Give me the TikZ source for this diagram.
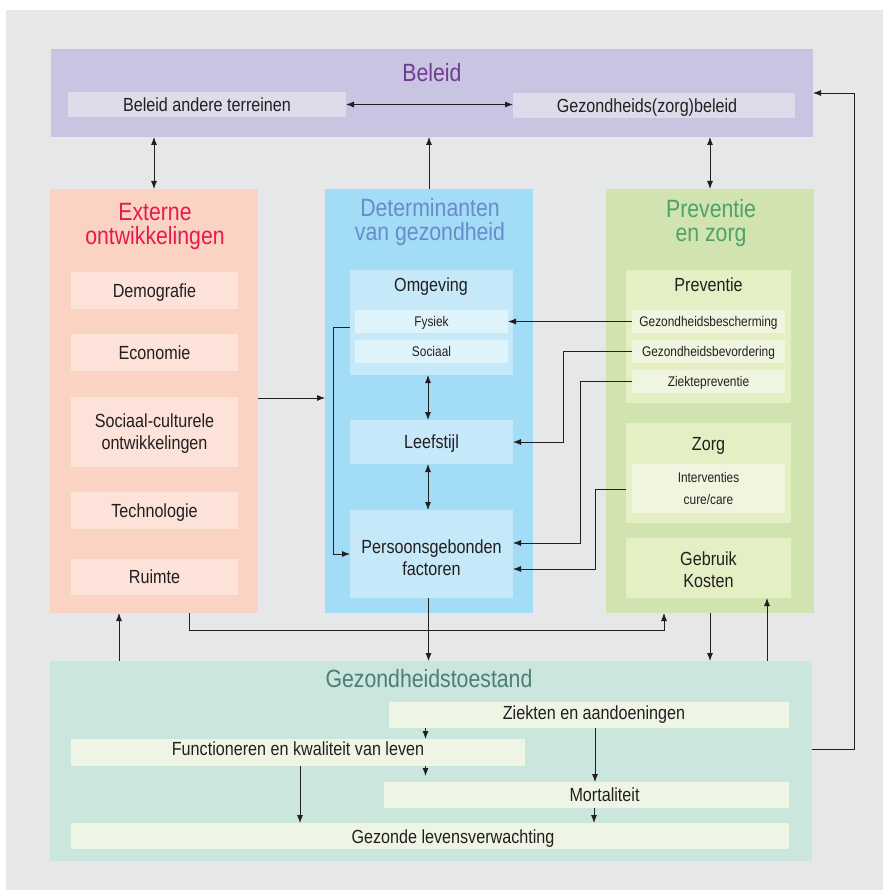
\documentclass[tikz,border=0pt]{standalone}
\usepackage{fontspec}
\setmainfont{Liberation Sans}[FakeStretch=0.85]
\usetikzlibrary{arrows.meta}
\definecolor{ink}{HTML}{231F20}
\definecolor{bgcol}{HTML}{E6E7E9}
\definecolor{belcol}{HTML}{C8C4E2}
\definecolor{belsub}{HTML}{DEDCEA}
\definecolor{beltxt}{HTML}{6E3F8F}
\definecolor{extcol}{HTML}{FBD3C2}
\definecolor{extsub}{HTML}{FCE2D8}
\definecolor{exttxt}{HTML}{E8194F}
\definecolor{detcol}{HTML}{A3DCF7}
\definecolor{detsub}{HTML}{C5E9F8}
\definecolor{detitem}{HTML}{DFF3FB}
\definecolor{dettxt}{HTML}{6A8BC9}
\definecolor{prevcol}{HTML}{D1E4AF}
\definecolor{prevsub}{HTML}{E4EFC4}
\definecolor{previtem}{HTML}{EFF5DF}
\definecolor{prevtxt}{HTML}{4FA06B}
\definecolor{gezcol}{HTML}{CBE6DC}
\definecolor{gezsub}{HTML}{EFF5E4}
\definecolor{geztxt}{HTML}{4E7D79}

\begin{document}
\begin{tikzpicture}[x=1pt,y=-1pt,
    box/.style={inner sep=0pt,outer sep=0pt,align=center,text=ink,font=\fontsize{19}{22}\selectfont},
    word/.style={box,text height=13.7pt,text depth=0pt},
    item/.style={box,font=\fontsize{14}{22}\selectfont,text height=10pt,text depth=0pt},
    title/.style={inner sep=0pt,align=center,font=\fontsize{25}{24}\selectfont},
    link/.style={draw=ink,line width=0.8pt,-{Latex[length=8pt,width=6pt]}},
    both/.style={link,{Latex[length=8pt,width=6pt]}-{Latex[length=8pt,width=6pt]}}]
    \useasboundingbox (0,0) rectangle (883,890);
    \fill[bgcol] (6,10) rectangle (883,890);

    \node[box,fill=belcol,minimum width=762pt,minimum height=88pt] (beleid) at (432,93) {};
    \node[title,text=beltxt] (beleidtitle) at (432,73) {Beleid};
    \node[word,fill=belsub,minimum width=278pt,minimum height=25pt] (belother) at (207,104.5) {Beleid andere terreinen};
    \node[word,fill=belsub,minimum width=282pt,minimum height=25pt,label={[word,xshift=-7pt]center:Gezondheids(zorg)beleid}] (belhealth) at (654,105.5) {};

    \node[box,fill=extcol,minimum width=208pt,minimum height=424pt] (extern) at (154,401) {};
    \node[title,text=exttxt] (externtitle) at (155,226) {Externe\\ontwikkelingen};
    \node[word,fill=extsub,minimum width=167pt,minimum height=37pt] (demografie) at (154.5,290.5) {Demografie};
    \node[word,fill=extsub,minimum width=167pt,minimum height=37pt] (economie) at (154.5,352.5) {Economie};
    \node[box,fill=extsub,minimum width=167pt,minimum height=70pt,label={[box,yshift=-2pt]center:{Sociaal-culturele\\ontwikkelingen}}] (sociaalcult) at (154.5,432) {};
    \node[word,fill=extsub,minimum width=167pt,minimum height=37pt] (technologie) at (154.5,510.5) {Technologie};
    \node[word,fill=extsub,minimum width=167pt,minimum height=36pt] (ruimte) at (154.5,577) {Ruimte};

    \node[box,fill=detcol,minimum width=208pt,minimum height=424pt] (determinanten) at (429,401) {};
    \node[title,text=dettxt] (determinantentitle) at (430,222) {Determinanten\\van gezondheid};
    \node[box,fill=detsub,minimum width=163pt,minimum height=105pt] (omgeving) at (431.5,322.5) {};
    \node[word] (omgevingtitle) at (431,284.5) {Omgeving};
    \node[item,fill=detitem,minimum width=153pt,minimum height=23pt] (fysiek) at (431.5,321.5) {Fysiek};
    \node[item,fill=detitem,minimum width=153pt,minimum height=23pt] (sociaal) at (431.5,351.5) {Sociaal};
    \node[word,fill=detsub,minimum width=163pt,minimum height=44pt] (leefstijl) at (431.5,442) {Leefstijl};
    \node[box,fill=detsub,minimum width=163pt,minimum height=88pt,label={[box,yshift=-4pt]center:{Persoonsgebonden\\factoren}}] (persoons) at (431.5,554) {};

    \node[box,fill=prevcol,minimum width=208pt,minimum height=424pt] (preventiezorg) at (710,401) {};
    \node[title,text=prevtxt] (preventiezorgtitle) at (711,223) {Preventie\\en zorg};
    \node[box,fill=prevsub,minimum width=165pt,minimum height=133pt] (preventie) at (708.5,336.5) {};
    \node[word] (preventietitle) at (708.5,284.5) {Preventie};
    \node[item,fill=previtem,minimum width=153pt,minimum height=23pt] (bescherming) at (708.5,321.5) {Gezondheidsbescherming};
    \node[item,fill=previtem,minimum width=153pt,minimum height=23pt] (bevordering) at (708.5,351.5) {Gezondheidsbevordering};
    \node[item,fill=previtem,minimum width=153pt,minimum height=23pt] (ziektepreventie) at (708.5,381.5) {Ziektepreventie};
    \node[box,fill=prevsub,minimum width=165pt,minimum height=100pt] (zorg) at (708.5,473) {};
    \node[word] (zorgtitle) at (708.5,444) {Zorg};
    \node[box,fill=previtem,minimum width=153pt,minimum height=49pt,label={[box,font=\fontsize{14}{22}\selectfont]center:{Interventies\\cure/care}}] (interventies) at (708.5,488.5) {};
    \node[box,fill=prevsub,minimum width=165pt,minimum height=60pt,label={[box,yshift=-2pt]center:{Gebruik\\Kosten}}] (gebruik) at (708.5,568) {};

    \node[box,fill=gezcol,minimum width=762pt,minimum height=200pt] (toestand) at (431,761) {};
    \node[title,text=geztxt] (toestandtitle) at (429,679) {Gezondheidstoestand};
    \node[box,fill=gezsub,minimum width=400pt,minimum height=26pt,label={[word,xshift=5pt,yshift=2.5pt]center:Ziekten en aandoeningen}] (ziekten) at (589,715) {};
    \node[box,fill=gezsub,minimum width=454pt,minimum height=27pt,label={[word,yshift=3.5pt]center:Functioneren en kwaliteit van leven}] (functioneren) at (298,752.5) {};
    \node[box,fill=gezsub,minimum width=405pt,minimum height=26pt,label={[word,xshift=18pt]center:Mortaliteit}] (mortaliteit) at (586.5,795) {};
    \node[box,fill=gezsub,minimum width=718pt,minimum height=26pt,label={[word,xshift=23pt,yshift=-1pt]center:Gezonde levensverwachting}] (gezonde) at (430,836) {};

    \draw[both] (belother.east) -- (belother.east -| belhealth.west);
    \draw[both] (extern.north) -- (extern.north |- beleid.south);
    \draw[link] (determinanten.north) -- (determinanten.north |- beleid.south);
    \draw[both] (preventiezorg.north) -- (preventiezorg.north |- beleid.south);
    \draw[link] ([yshift=3pt]extern.east) -- ([yshift=3pt]determinanten.west);
    \draw[link] ([yshift=-4.5pt]omgeving.west) -- ++(-17,0) |- (persoons.west);
    \draw[both] ([xshift=-3.5pt]omgeving.south) -- ([xshift=-3.5pt]leefstijl.north);
    \draw[both] ([xshift=-3.5pt]leefstijl.south) -- ([xshift=-3.5pt]persoons.north);
    \draw[link] (bescherming.west) -- (bescherming.west -| fysiek.east);
    \draw[link] (bevordering.west) -- ++(-69,0) |- (leefstijl.east);
    \draw[link] (ziektepreventie.west) -- ++(-52,0) |- ([yshift=11pt]persoons.east);
    \draw[link] ([yshift=-16pt]zorg.west) -- ++(-31,0) |- ([yshift=-15pt]persoons.east);
    \draw[link] ([xshift=-3pt]persoons.south) -- ([xshift=-3pt]persoons.south |- toestand.north);
    \draw[link] ([xshift=-35pt]extern.south |- toestand.north) -- ([xshift=-35pt]extern.south);
    \draw[link] ([xshift=35pt]extern.south) -- ++(0,17) -| ([xshift=-46pt]preventiezorg.south);
    \draw[link] (preventiezorg.south) -- (preventiezorg.south |- toestand.north);
    \draw[link] ([xshift=58.5pt]gebruik.south |- toestand.north) -- ([xshift=58.5pt]gebruik.south);
    \draw[link] ([yshift=12pt]toestand.east) -- ++(42,0) |- (beleid.east);
    \draw[link] ([xshift=-163.5pt]ziekten.south) -- ([xshift=-163.5pt]ziekten.south |- functioneren.north);
    \draw[link] ([xshift=127.5pt]functioneren.south) -- ++(0,10);
    \draw[link] ([xshift=6pt]ziekten.south) -- ([xshift=6pt]ziekten.south |- mortaliteit.north);
    \draw[link] ([xshift=2pt]functioneren.south) -- ([xshift=2pt]functioneren.south |- gezonde.north);
    \draw[link] ([xshift=7.5pt]mortaliteit.south) -- ([xshift=7.5pt]mortaliteit.south |- gezonde.north);
\end{tikzpicture}
\end{document}
